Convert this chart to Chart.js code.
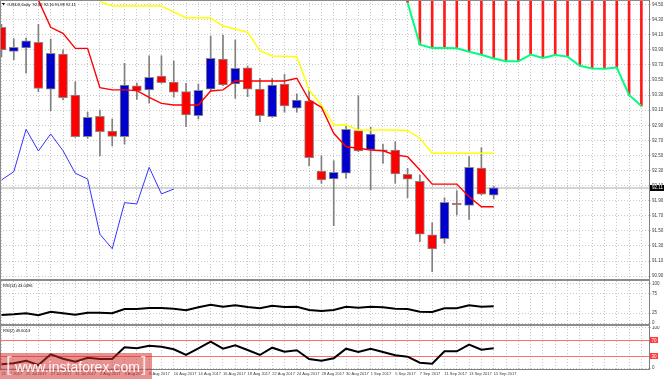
<!DOCTYPE html>
<html>
<head>
<meta charset="utf-8">
<title>USDX Daily</title>
<script src="https://cdn.jsdelivr.net/npm/chart.js@4.4.1/dist/chart.umd.min.js"></script>
<style>
  html, body { margin: 0; padding: 0; background: #ffffff; overflow: hidden; }
  #wrap { position: relative; width: 665px; height: 379px; background: #fff; }
  #wrap canvas { position: absolute; left: 0; display: block; }
</style>
</head>
<body>
<div id="wrap">
  <canvas id="priceChart" width="665" height="281" style="top:0px;width:665px;height:281px"></canvas>
  <canvas id="rsi14Chart" width="665" height="45" style="top:281px;width:665px;height:45px"></canvas>
  <canvas id="rsi2Chart" width="665" height="53" style="top:326px;width:665px;height:53px"></canvas>
</div>
<script>
// ---------------- DATA ----------------
const symbolTitle = '#USDX,Daily';
const quote = [92.02, 92.16, 91.98, 92.11];

const dates = ['21 Jul 2017','24 Jul 2017','25 Jul 2017','26 Jul 2017','27 Jul 2017','28 Jul 2017','31 Jul 2017',
  '1 Aug 2017','2 Aug 2017','3 Aug 2017','4 Aug 2017','7 Aug 2017','8 Aug 2017','9 Aug 2017','10 Aug 2017','11 Aug 2017',
  '14 Aug 2017','15 Aug 2017','16 Aug 2017','17 Aug 2017','18 Aug 2017','21 Aug 2017','22 Aug 2017','23 Aug 2017',
  '24 Aug 2017','25 Aug 2017','28 Aug 2017','29 Aug 2017','30 Aug 2017','31 Aug 2017','1 Sep 2017','4 Sep 2017',
  '5 Sep 2017','6 Sep 2017','7 Sep 2017','8 Sep 2017','11 Sep 2017','12 Sep 2017','13 Sep 2017','14 Sep 2017','15 Sep 2017'];

const opens  = [94.20,93.88,93.925,94.00,93.38,93.846,93.302,92.749,93.02,92.825,92.749,93.425,93.368,93.554,93.474,93.346,93.027,93.378,93.78,93.448,93.664,93.382,93.014,93.448,93.126,93.226,92.294,92.188,92.264,92.829,92.573,92.573,92.573,92.25,92.157,91.446,91.396,91.866,91.839,92.334,91.972];
const highs  = [94.24,94.05,94.058,94.24,94.045,93.90,93.478,93.073,93.103,92.984,93.722,93.46,93.823,93.823,93.753,93.457,93.448,94.085,94.098,94.032,93.687,93.524,93.524,93.577,93.315,93.368,92.497,92.431,92.891,93.293,92.874,92.652,92.683,92.33,92.241,91.608,91.94,92.033,92.484,92.603,92.095];
const lows   = [93.81,93.77,93.59,93.346,93.094,93.236,92.74,92.728,92.493,92.626,92.652,93.245,93.192,93.457,93.272,92.882,92.984,93.346,93.425,93.258,93.28,92.948,93.006,93.073,93.073,92.36,92.131,91.569,92.197,92.55,92.042,92.396,92.131,91.94,91.356,90.96,91.335,91.71,91.653,91.976,91.923];
const closes = [93.90,93.935,94.02,93.39,93.855,93.266,92.749,93.006,92.815,92.754,93.435,93.355,93.537,93.465,93.338,93.037,93.364,93.789,93.435,93.656,93.378,93.027,93.435,93.156,93.236,92.47,92.175,92.277,92.847,92.559,92.785,92.56,92.254,92.184,91.455,91.26,91.879,91.847,92.343,91.985,92.07];

const tenkanSen = [null,null,null,94.56,94.20,94.12,93.92,93.92,93.40,93.37,93.37,93.36,93.27,93.19,93.17,93.17,93.17,93.355,93.37,93.488,93.488,93.488,93.488,93.488,93.524,93.236,93.139,92.794,92.616,92.595,92.573,92.563,92.506,92.484,92.307,92.12,92.12,92.12,91.953,91.82,91.82];
const kijunSen  = [null,null,null,null,null,null,null,null,94.54,94.482,94.482,94.482,94.482,94.482,94.404,94.327,94.327,94.323,94.217,94.177,94.134,93.89,93.82,93.815,93.81,93.368,93.17,92.904,92.904,92.838,92.838,92.838,92.838,92.831,92.728,92.529,92.529,92.529,92.529,92.529,92.529];
const chikouSpan = [92.175,92.285,92.847,92.56,92.785,92.563,92.264,92.188,91.455,91.263,91.874,91.857,92.343,91.99,92.055];
const senkouStart = 33;
const senkouSpanA = [94.53,93.97,93.926,93.926,93.921,93.876,93.836,93.787,93.749,93.749,93.839,93.794,93.833,93.811,93.689,93.654,93.65,93.667,93.302,93.155];

const priceTicks = [94.5,94.3,94.1,93.9,93.7,93.5,93.3,93.1,92.9,92.7,92.5,92.3,92.1,91.9,91.7,91.5,91.3,91.1,90.9];

const rsi14Label = 'RSI(14) 43.0496';
const rsi14 = [20.5,22.3,24.9,19.7,29.0,24.9,21.3,26.4,26.4,24.9,35.9,35.9,38.5,38.5,36.7,32.6,40.3,46.9,41.8,45.4,41.0,37.7,44.4,41.0,41.8,33.3,30.8,33.3,41.8,39.2,41.8,40.3,36.7,35.9,29.0,28.2,37.7,37.7,45.4,41.8,43.0];
const rsi14Ticks = [100, 75, 25, 0];

const rsi2Label = 'RSI(2) 49.6013';
const rsi2 = [9.3,11.8,18.3,7.5,34.3,23.3,15.8,25.8,22.5,22.5,51.8,49.3,55.8,53.3,46.8,32.5,49.3,65.8,48.3,56.8,45.0,32.5,50.8,40.8,44.3,22.5,18.3,24.3,48.3,40.0,48.3,40.0,31.8,28.3,13.3,10.8,41.8,41.8,58.3,45.8,49.6];
const rsi2Ticks = [100, 70, 30, 0];
const rsi2Levels = [70, 30];

// ---------------- STYLE / GEOMETRY ----------------
const X_MIN = -0.12, X_MAX = 52.62;
const PRICE_MIN = 90.835, PRICE_MAX = 94.562;
const barSlots = Array.from({length: 53}, (_, i) => i);
const gridColor = '#c8c8c8';
const axisColor = '#808080';
const sepColor = '#8c8c8c';
const labelColor = '#3a3a3a';
const FONT = 'Liberation Sans, Arial, sans-serif';
const bullColor = '#0000cd';
const bearColor = '#ff0000';

Chart.defaults.font.family = FONT;

function xAxis(withLabels) {
  return {
    type: 'linear', min: X_MIN, max: X_MAX, offset: false,
    grid: { display: true, offset: false, color: gridColor, lineWidth: 1, drawTicks: false },
    border: { display: withLabels, color: axisColor, width: 1, dash: [1, 2] },
    ticks: {
      display: withLabels, autoSkip: false, maxRotation: 0, minRotation: 0, align: 'start', padding: 2,
      color: labelColor, font: { family: FONT, size: 4 },
      callback: v => (v % 2 === 0 && v < dates.length) ? dates[v] : ''
    },
    afterBuildTicks: s => { s.ticks = barSlots.map(v => ({ value: v })); },
    afterFit: s => { s.height = withLabels ? 10 : 0; s.paddingLeft = 0; s.paddingRight = 0; }
  };
}

function yAxis(min, max, tickVals, fmt) {
  return {
    type: 'linear', position: 'right', min: min, max: max, beginAtZero: false,
    grid: { color: gridColor, lineWidth: 1, drawTicks: true, tickLength: 2 },
    border: { display: true, color: axisColor, width: 1, dash: [1, 2] },
    ticks: { autoSkip: false, padding: 1, color: labelColor, font: { family: FONT, size: 4.5 }, callback: fmt },
    afterBuildTicks: s => { s.ticks = tickVals.map(v => ({ value: v })); },
    afterFit: s => { s.width = 16; s.paddingTop = 0; s.paddingBottom = 0; }
  };
}

const baseOptions = {
  responsive: false, maintainAspectRatio: false, animation: false, devicePixelRatio: 1,
  events: [], layout: { padding: 0 },
  plugins: { legend: { display: false }, tooltip: { enabled: false }, title: { display: false } }
};

function leftFrame(ctx, area) {
  ctx.fillStyle = sepColor;
  ctx.fillRect(0, 0, 1, area.bottom);
}

// ---------------- MAIN PRICE CHART ----------------
const lastIdx = closes.length - 1;

const mainDecor = {
  id: 'mainDecor',
  beforeDatasetsDraw(chart) {
    const { ctx, chartArea } = chart;
    const y = chart.scales.y.getPixelForValue(closes[lastIdx]);
    ctx.save();
    ctx.strokeStyle = '#c6c6c6';
    ctx.lineWidth = 1.5;
    ctx.beginPath();
    ctx.moveTo(chartArea.left, y);
    ctx.lineTo(chartArea.right, y);
    ctx.stroke();
    ctx.restore();
  },
  afterDraw(chart) {
    const { ctx, chartArea } = chart;
    ctx.save();
    ctx.fillStyle = sepColor;
    ctx.fillRect(0, 0, chartArea.right, 1);
    leftFrame(ctx, chartArea);
    ctx.fillRect(0, chartArea.bottom - 2, chartArea.right + 1, 2);
    // current price box
    const y = chart.scales.y.getPixelForValue(closes[lastIdx]);
    ctx.fillStyle = '#000';
    ctx.fillRect(chartArea.right + 1, Math.round(y) - 3, 14, 6);
    ctx.fillStyle = '#fff';
    ctx.font = '4.5px ' + FONT;
    ctx.textBaseline = 'middle';
    ctx.textAlign = 'left';
    ctx.fillText(quote[3].toFixed(2), chartArea.right + 3, Math.round(y));
    // title
    ctx.fillStyle = '#000';
    ctx.beginPath();
    ctx.moveTo(2, 3); ctx.lineTo(5, 3); ctx.lineTo(3.5, 5.5); ctx.closePath(); ctx.fill();
    ctx.font = '4px ' + FONT;
    ctx.fillText(symbolTitle + '  ' + quote.map(q => q.toFixed(2)).join(' '), 7, 4.5);
    ctx.restore();
  }
};

new Chart(document.getElementById('priceChart'), {
  type: 'bar',
  data: {
    datasets: [
      { type: 'line', label: 'Senkou A', order: 1,
        data: senkouSpanA.map((v, k) => ({ x: senkouStart + k, y: v })),
        borderColor: '#00ff80', borderWidth: 2, pointRadius: 0, tension: 0, fill: false },
      { type: 'line', label: 'Tenkan', order: 2,
        data: tenkanSen.map((v, i) => ({ x: i, y: v })),
        borderColor: '#ff0000', borderWidth: 1.4, pointRadius: 0, tension: 0, fill: false },
      { type: 'line', label: 'Kijun', order: 3,
        data: kijunSen.map((v, i) => ({ x: i, y: v })),
        borderColor: '#ffff00', borderWidth: 1.4, pointRadius: 0, tension: 0, fill: false },
      { type: 'line', label: 'Chikou', order: 4,
        data: chikouSpan.map((v, i) => ({ x: i, y: v })),
        borderColor: '#3333ff', borderWidth: 1, pointRadius: 0, tension: 0, fill: false },
      { type: 'bar', label: 'Bodies', order: 6, grouped: false,
        data: opens.map((o, i) => ({ x: i, y: [o, closes[i]] })),
        backgroundColor: opens.map((o, i) => closes[i] >= o ? bullColor : bearColor),
        borderColor: '#8a8a8a', borderWidth: 1, borderSkipped: false, barThickness: 9, minBarLength: 1 },
      { type: 'bar', label: 'Wicks', order: 7, grouped: false,
        data: lows.map((l, i) => ({ x: i, y: [l, highs[i]] })),
        backgroundColor: '#808080', borderWidth: 0, barThickness: 1 },
      { type: 'bar', label: 'Cloud', order: 8, grouped: false,
        data: senkouSpanA.map((v, k) => ({ x: senkouStart + k, y: [v, PRICE_MAX] })),
        backgroundColor: '#ff1a1a', borderWidth: 0, barThickness: 2 }
    ]
  },
  options: Object.assign({}, baseOptions, {
    scales: {
      x: xAxis(false),
      y: yAxis(PRICE_MIN, PRICE_MAX, priceTicks, v => Number(v).toFixed(2))
    }
  }),
  plugins: [mainDecor]
});

// ---------------- RSI(14) PANEL ----------------
const rsi14Decor = {
  id: 'rsi14Decor',
  afterDraw(chart) {
    const { ctx, chartArea } = chart;
    ctx.save();
    leftFrame(ctx, chartArea);
    ctx.fillStyle = sepColor;
    ctx.fillRect(0, chartArea.bottom - 2, chartArea.right + 1, 2);
    ctx.fillStyle = '#000';
    ctx.font = '4px ' + FONT;
    ctx.textBaseline = 'middle';
    ctx.fillText(rsi14Label, 3, 4.5);
    ctx.restore();
  }
};

new Chart(document.getElementById('rsi14Chart'), {
  type: 'line',
  data: {
    datasets: [{
      data: rsi14.map((v, i) => ({ x: i, y: v })),
      borderColor: '#000', borderWidth: 2, pointRadius: 0, tension: 0, fill: false
    }]
  },
  options: Object.assign({}, baseOptions, {
    scales: {
      x: xAxis(false),
      y: yAxis(-7.69, 107.69, rsi14Ticks, v => String(v))
    }
  }),
  plugins: [rsi14Decor]
});

// ---------------- RSI(2) PANEL ----------------
const rsi2Decor = {
  id: 'rsi2Decor',
  beforeDatasetsDraw(chart) {
    const { ctx, chartArea } = chart;
    const y = chart.scales.y;
    ctx.save();
    ctx.strokeStyle = 'rgba(255,90,90,0.85)';
    ctx.lineWidth = 1;
    rsi2Levels.forEach(l => {
      const py = Math.round(y.getPixelForValue(l)) + 0.5;
      ctx.beginPath();
      ctx.moveTo(chartArea.left, py);
      ctx.lineTo(chartArea.right, py);
      ctx.stroke();
    });
    ctx.restore();
  },
  afterDraw(chart) {
    const { ctx, chartArea } = chart;
    const y = chart.scales.y;
    ctx.save();
    leftFrame(ctx, chartArea);
    ctx.font = '4.5px ' + FONT;
    ctx.textBaseline = 'middle';
    rsi2Levels.forEach(l => {
      const py = Math.round(y.getPixelForValue(l));
      ctx.fillStyle = '#ff3a3a';
      ctx.fillRect(chartArea.right + 1, py - 3, 8, 6);
      ctx.fillStyle = '#fff';
      ctx.fillText(String(l), chartArea.right + 2.5, py + 0.5);
    });
    ctx.fillStyle = '#000';
    ctx.font = '4px ' + FONT;
    ctx.fillText(rsi2Label, 3, 4.5);
    // watermark
    ctx.fillStyle = 'rgba(210,45,45,0.52)';
    ctx.fillRect(0, 27, 152, 26);
    ctx.fillStyle = 'rgba(255,255,255,0.95)';
    ctx.textBaseline = 'alphabetic';
    ctx.font = '14px ' + FONT;
    const txt = 'www.instaforex.com';
    const w = ctx.measureText(txt).width;
    const fs = 14 * 125 / w;
    ctx.font = fs.toFixed(2) + 'px ' + FONT;
    ctx.fillText(txt, 15, 46);
    ctx.font = '20px ' + FONT;
    ctx.fillStyle = 'rgba(255,255,255,0.8)';
    ctx.fillText('[', 6, 45);
    ctx.fillText(']', 141, 45);
    ctx.restore();
  }
};

new Chart(document.getElementById('rsi2Chart'), {
  type: 'line',
  data: {
    datasets: [{
      data: rsi2.map((v, i) => ({ x: i, y: v })),
      borderColor: '#000', borderWidth: 2, pointRadius: 0, tension: 0, fill: false
    }]
  },
  options: Object.assign({}, baseOptions, {
    scales: {
      x: xAxis(true),
      y: yAxis(-2.5, 105, rsi2Ticks, v => (rsi2Levels.indexOf(v) >= 0 ? '' : String(v)))
    }
  }),
  plugins: [rsi2Decor]
});
</script>
</body>
</html>
